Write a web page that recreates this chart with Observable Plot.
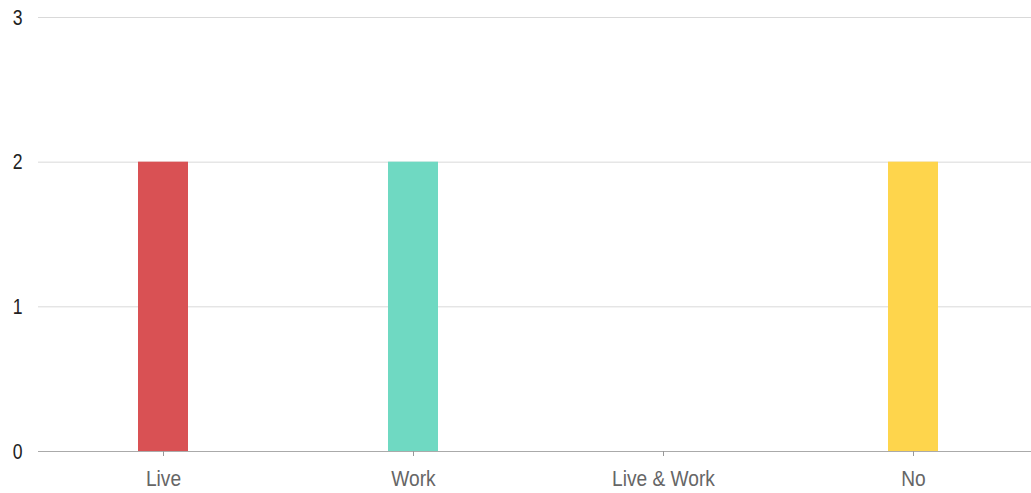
<!DOCTYPE html>
<html>
<head>
<meta charset="utf-8">
<script src="https://cdn.jsdelivr.net/npm/d3@7"></script>
<script src="https://cdn.jsdelivr.net/npm/@observablehq/plot@0.6"></script>
<style>
  html, body { margin: 0; padding: 0; background: #fff; }
  svg { display: block; }
</style>
</head>
<body>
<div id="chart"></div>
<script>
const categories = ["Live", "Work", "Live & Work", "No"];
const values = [2, 2, 0, 2];
const colors = ["#d84b4e", "#6ad8c0", "#cccccc", "#fed446"];
const yTicks = [0, 1, 2, 3];

const data = categories.map((c, i) => ({category: c, value: values[i]}));
const font = "'Liberation Sans', Arial, sans-serif";

const chart = Plot.plot({
  width: 1031,
  height: 493,
  marginTop: 17,
  marginBottom: 42,
  marginLeft: 38,
  marginRight: 0,
  style: {fontFamily: font, background: "#fff"},
  x: {domain: categories, range: [38, 1038], paddingInner: 0.8, paddingOuter: 0.4, align: 0.5},
  y: {domain: [0, 3]},
  color: {domain: categories, range: colors},
  marks: [
    Plot.gridY(yTicks.slice(1), {stroke: "#d9d9d9", strokeOpacity: 1}),
    Plot.ruleY([0], {stroke: "#aaaaaa"}),
    Plot.barY(data, {x: "category", y: "value", fill: "category", fillOpacity: 0.97}),
    Plot.axisX({tickSize: 5, tickPadding: 14, fontSize: 22, fill: "#666", stroke: "#999", label: null, ariaLabel: "x-axis"}),
    Plot.axisY({ticks: yTicks, tickSize: 0, tickPadding: 16, fontSize: 22, fill: "#222", label: null, tickFormat: d3.format("d"), ariaLabel: "y-axis"})
  ]
});
document.getElementById("chart").appendChild(chart);

// condense axis labels to mimic the narrow typeface of the reference
function condense(selector, k) {
  chart.querySelectorAll(selector).forEach(t => {
    const len = t.getComputedTextLength();
    if (len > 0) {
      t.setAttribute("textLength", (len * k).toFixed(2));
      t.setAttribute("lengthAdjust", "spacingAndGlyphs");
    }
  });
}
condense('g[aria-label="x-axis tick label"] text', 0.87);
condense('g[aria-label="y-axis tick label"] text', 0.8);
</script>
</body>
</html>
